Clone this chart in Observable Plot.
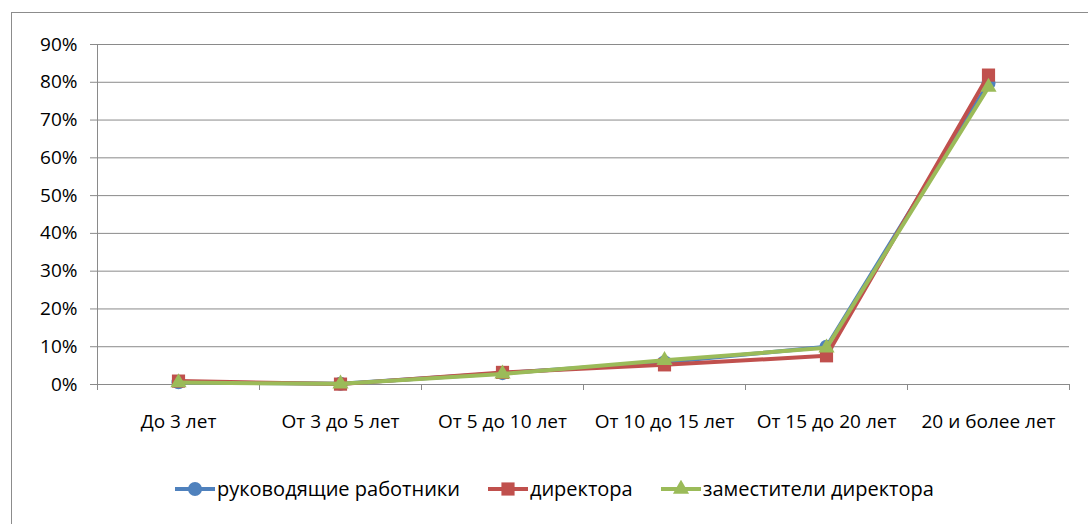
<!DOCTYPE html>
<html>
<head>
<meta charset="utf-8">
<script src="https://cdn.jsdelivr.net/npm/d3@7"></script>
<script src="https://cdn.jsdelivr.net/npm/@observablehq/plot@0.6"></script>
<style>
  html, body { margin: 0; padding: 0; background: #fff; }
  body { width: 1088px; height: 524px; position: relative; overflow: hidden; font-family: "Open Sans", sans-serif; }
  #frame { position: absolute; left: 11px; top: 12px; width: 1100px; height: 600px; border: 1px solid #8c8c8c; box-sizing: border-box; }
  #chart { position: absolute; left: 0; top: 0; }
  #legend { position: absolute; left: 175px; top: 475px; display: flex; align-items: center; gap: 28px; font-size: 20px; color: #000; white-space: nowrap; }
  .item { display: flex; align-items: center; }
  .item svg { display: block; margin-right: 2px; }
</style>
</head>
<body>
<div id="frame"></div>
<div id="chart"></div>
<div id="legend"></div>
<script>
// ---- data ----
const categories = ["До 3 лет", "От 3 до 5 лет", "От 5 до 10 лет", "От 10 до 15 лет", "От 15 до 20 лет", "20 и более лет"];
const seriesNames = ["руководящие работники", "директора", "заместители директора"];
const rukovoditeli = [0.006, 0.002, 0.030, 0.059, 0.100, 0.797];
const direktora    = [0.009, 0.001, 0.032, 0.052, 0.076, 0.819];
const zamestiteli  = [0.005, 0.002, 0.028, 0.064, 0.097, 0.787];
const yTicks = [0, 0.1, 0.2, 0.3, 0.4, 0.5, 0.6, 0.7, 0.8, 0.9];
const colors = ["#4F81BD", "#C0504D", "#9BBB59"];
const symbols = ["circle", "square", "triangle"];
const markerR = [7, 4.2, 6];

const seriesValues = [rukovoditeli, direktora, zamestiteli];
const boundaries = d3.range(categories.length + 1);
const centers = categories.map((c, i) => i + 0.5);

const rows = seriesValues.map((vals, s) =>
  vals.map((v, i) => ({series: seriesNames[s], cat: categories[i], xi: i + 0.5, value: v}))
);

const seriesMarks = rows.flatMap((data, s) => [
  Plot.line(data, {x: "xi", y: "value", stroke: colors[s], strokeWidth: 4, strokeLinejoin: "round"}),
  Plot.dot(data, {x: "xi", y: "value", symbol: symbols[s], r: markerR[s] * (symbols[s] === "square" ? 1.77 : 1), fill: colors[s], stroke: "none"})
]);

const chart = Plot.plot({
  width: 1088,
  height: 450,
  marginLeft: 97,
  marginRight: 19,
  marginTop: 44,
  marginBottom: 66,
  style: {fontFamily: "'Open Sans', sans-serif", fontSize: "19px", color: "#000", background: "transparent"},
  x: {type: "linear", domain: [0, categories.length]},
  y: {domain: [0, 0.9]},
  marks: [
    Plot.ruleY(yTicks, {stroke: "#8a8a8a", strokeWidth: 1}),
    Plot.ruleX([0], {y1: 0, y2: 0.9, stroke: "#8a8a8a", strokeWidth: 1}),
    Plot.axisY(yTicks, {tickSize: 7, tickPadding: 13, tickFormat: d3.format(".0%"), stroke: "#8a8a8a", fill: "#000", label: null}),
    Plot.axisX(boundaries, {tickSize: 6, tickFormat: () => "", stroke: "#8a8a8a", label: null}),
    Plot.axisX(centers, {tickSize: 0, tickPadding: 30, tickFormat: d => categories[Math.floor(d)], fill: "#000", label: null}),
    ...seriesMarks
  ]
});
document.getElementById("chart").appendChild(chart);

// ---- legend ----
const legend = d3.select("#legend");
seriesNames.forEach((name, s) => {
  const item = legend.append("div").attr("class", "item");
  const svg = item.append("svg").attr("width", 40).attr("height", 18);
  svg.append("line").attr("x1", 0).attr("x2", 40).attr("y1", 9).attr("y2", 9)
    .attr("stroke", colors[s]).attr("stroke-width", 4);
  const size = symbols[s] === "square" ? Math.pow(markerR[s] * 1.77, 2) * Math.PI : Math.PI * markerR[s] * markerR[s];
  const sym = {circle: d3.symbolCircle, square: d3.symbolSquare, triangle: d3.symbolTriangle}[symbols[s]];
  svg.append("path").attr("transform", "translate(20,9)")
    .attr("d", d3.symbol(sym, size)()).attr("fill", colors[s]);
  item.append("span").text(name);
});
</script>
</body>
</html>
